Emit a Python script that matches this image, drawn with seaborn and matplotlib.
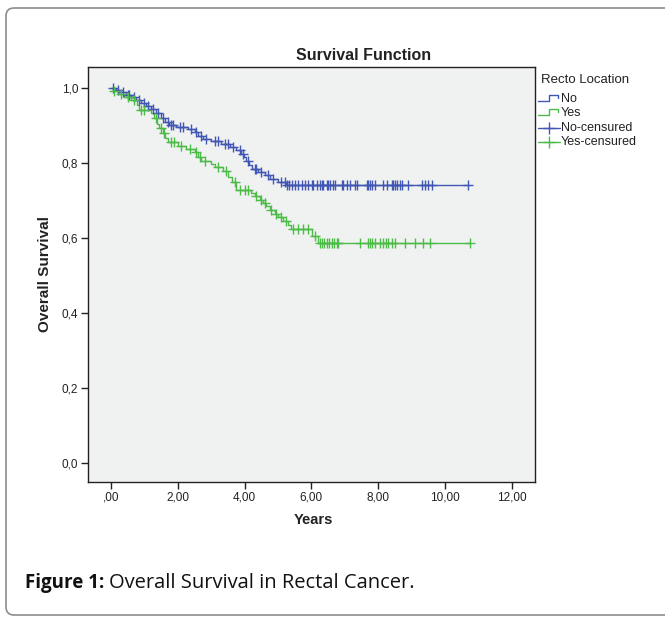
import numpy as np
import pandas as pd
import seaborn as sns
import matplotlib.pyplot as plt
from matplotlib.patches import FancyBboxPatch

# Kaplan-Meier steps (time in years, survival after the drop)
no_t = [0.0, 0.15, 0.3, 0.45, 0.6, 0.75, 0.9, 1.05, 1.2, 1.35, 1.5, 1.62, 1.75, 1.95,
        2.3, 2.5, 2.6, 2.75, 3.0, 3.3, 3.55, 3.75, 3.9, 3.98, 4.05, 4.12, 4.22, 4.4,
        4.6, 4.75, 5.0, 5.25]
no_s = [1.0, 0.994, 0.988, 0.982, 0.975, 0.968, 0.96, 0.952, 0.943, 0.933, 0.921, 0.909,
        0.902, 0.896, 0.89, 0.882, 0.873, 0.865, 0.858, 0.85, 0.843, 0.835, 0.825, 0.815,
        0.805, 0.795, 0.785, 0.776, 0.767, 0.758, 0.75, 0.741]
yes_t = [0.0, 0.05, 0.2, 0.4, 0.6, 0.78, 0.85, 1.2, 1.3, 1.38, 1.45, 1.55, 1.62, 1.72,
         2.0, 2.25, 2.5, 2.6, 2.7, 3.0, 3.1, 3.35, 3.5, 3.62, 3.75, 4.2, 4.3, 4.45, 4.55,
         4.65, 4.75, 4.9, 5.0, 5.15, 5.3, 5.4, 6.02, 6.2]
yes_s = [1.0, 0.992, 0.984, 0.976, 0.968, 0.955, 0.942, 0.933, 0.92, 0.905, 0.893, 0.881,
         0.866, 0.855, 0.846, 0.836, 0.828, 0.815, 0.806, 0.797, 0.788, 0.778, 0.763, 0.748,
         0.729, 0.72, 0.711, 0.702, 0.693, 0.684, 0.675, 0.665, 0.656, 0.645, 0.634, 0.625,
         0.604, 0.586]

# censored observations (years)
no_cens = [0.05, 0.2, 0.35, 0.5, 0.55, 0.7, 0.85, 1.0, 1.1, 1.25, 1.4, 1.55, 1.7, 1.8, 1.85,
           2.05, 2.15, 2.4, 2.55, 2.7, 2.85, 3.1, 3.2, 3.4, 3.5, 3.65, 3.85, 3.95, 4.1, 4.3,
           4.35, 4.5, 4.7, 4.85, 5.1, 5.2,
           5.27, 5.33, 5.42, 5.51, 5.60, 5.72, 5.81, 5.90, 6.02, 6.05, 6.17, 6.26, 6.32,
           6.35, 6.47, 6.50, 6.56, 6.65, 6.71, 6.92, 6.95, 7.07, 7.16, 7.31, 7.37, 7.66,
           7.69, 7.75, 7.81, 7.90, 8.14, 8.26, 8.41, 8.44, 8.50, 8.56, 8.65, 8.71, 8.89,
           9.31, 9.40, 9.49, 9.61, 10.69]
yes_cens = [0.1, 0.3, 0.5, 0.7, 0.9, 1.0, 1.35, 1.5, 1.6, 1.8, 1.9, 2.1, 2.35, 2.55, 2.65,
            2.8, 3.2, 3.45, 3.7, 3.85, 4.0, 4.1, 4.35, 4.5, 4.6, 4.8, 4.95, 5.1, 5.25, 5.45,
            5.6, 5.75, 5.9, 6.1,
            6.26, 6.32, 6.38, 6.47, 6.53, 6.62, 6.68, 6.77, 6.80, 7.46, 7.69, 7.75, 7.81,
            7.90, 8.05, 8.14, 8.23, 8.29, 8.41, 8.50, 8.80, 9.10, 9.34, 9.55, 10.75]

xticks = [0, 2, 4, 6, 8, 10, 12]
xtick_labels = [",00", "2,00", "4,00", "6,00", "8,00", "10,00", "12,00"]
yticks = [0.0, 0.2, 0.4, 0.6, 0.8, 1.0]
ytick_labels = ["0,0", "0,2", "0,4", "0,6", "0,8", "1,0"]

blue = "#4257b3"
green = "#4dbb48"


def surv_at(ts, ss, t):
    idx = np.searchsorted(ts, t, side="right") - 1
    return np.asarray(ss)[idx]


sns.set_style("white")
plt.rcParams["font.family"] = ["Liberation Sans", "DejaVu Sans"]

fig = plt.figure(figsize=(6.65, 6.19), dpi=100)

# overlay in pixel coords for the frame, captions and legend
ov = fig.add_axes([0, 0, 1, 1])
ov.set_xlim(0, 665)
ov.set_ylim(619, 0)
ov.axis("off")

ax = fig.add_axes([88 / 665, 137 / 619, 447 / 665, 415 / 619])
ax.set_facecolor("#f0f1f1")

for ts, ss, cens, col in [(no_t, no_s, no_cens, blue), (yes_t, yes_s, yes_cens, green)]:
    line = pd.DataFrame({"t": ts + [max(cens)], "s": ss + [ss[-1]]})
    sns.lineplot(data=line, x="t", y="s", drawstyle="steps-post", color=col, lw=1,
                 estimator=None, sort=False, ax=ax)
    cdf = pd.DataFrame({"t": cens, "s": surv_at(ts, ss, cens)})
    sns.scatterplot(data=cdf, x="t", y="s", marker="+", s=45, color=col, linewidth=1,
                    ax=ax, zorder=3)

ax.set_xlim(-0.69, 12.695)
ax.set_ylim(-0.0507, 1.056)
ax.set_xticks(xticks)
ax.set_xticklabels(xtick_labels)
ax.set_yticks(yticks)
ax.set_yticklabels(ytick_labels)
ax.tick_params(axis="both", direction="out", length=5, width=1, labelsize=8.5,
               colors="#222222", pad=2, bottom=True, left=True)
ax.set_xlabel("")
ax.set_ylabel("")
for sp in ax.spines.values():
    sp.set_color("#222222")
    sp.set_linewidth(1)

# texts
ov.text(364, 55, "Survival Function", ha="center", va="center", fontsize=11.5,
        fontweight="bold", color="#222222")
ov.text(313, 520, "Years", ha="center", va="center", fontsize=10.5, fontweight="bold",
        color="#222222")
ov.text(45, 274, "Overall Survival", ha="center", va="center", rotation=90, fontsize=11,
        fontweight="bold", color="#222222")

# legend
ov.text(541, 80, "Recto Location", ha="left", va="center", fontsize=9.5, color="#222222")
ov.plot([538, 549, 549, 558, 558], [101, 101, 95, 95, 98], color=blue, lw=1)
ov.plot([538, 549, 549, 558, 558], [115, 115, 109, 109, 112], color=green, lw=1)
ov.plot([538, 560], [128, 128], color=blue, lw=1)
ov.plot([549], [128], marker="+", ms=8, mew=1, color=blue)
ov.plot([538, 560], [142, 142], color=green, lw=1)
ov.plot([549], [142], marker="+", ms=8, mew=1, color=green)
for y, lab in [(99, "No"), (113, "Yes"), (128, "No-censured"), (142, "Yes-censured")]:
    ov.text(561, y, lab, ha="left", va="center", fontsize=9, color="#222222")

# outer frame
ov.add_patch(FancyBboxPatch((6, 8), 700, 607, boxstyle="round,pad=0,rounding_size=8",
                            ec="#8c8c8c", fc="none", lw=1.2, clip_on=False))

# caption
t1 = ov.text(25, 583, "Figure 1:", ha="left", va="center", fontsize=13.5, fontweight="bold",
             family=["Open Sans", "DejaVu Sans"], color="#111111")
fig.canvas.draw()
bb = t1.get_window_extent(fig.canvas.get_renderer())
ov.text(bb.x1 + 5, 583, "Overall Survival in Rectal Cancer.", ha="left", va="center",
        fontsize=14.5, family=["Open Sans", "DejaVu Sans"], color="#111111")

plt.savefig("out.png", dpi=100)
